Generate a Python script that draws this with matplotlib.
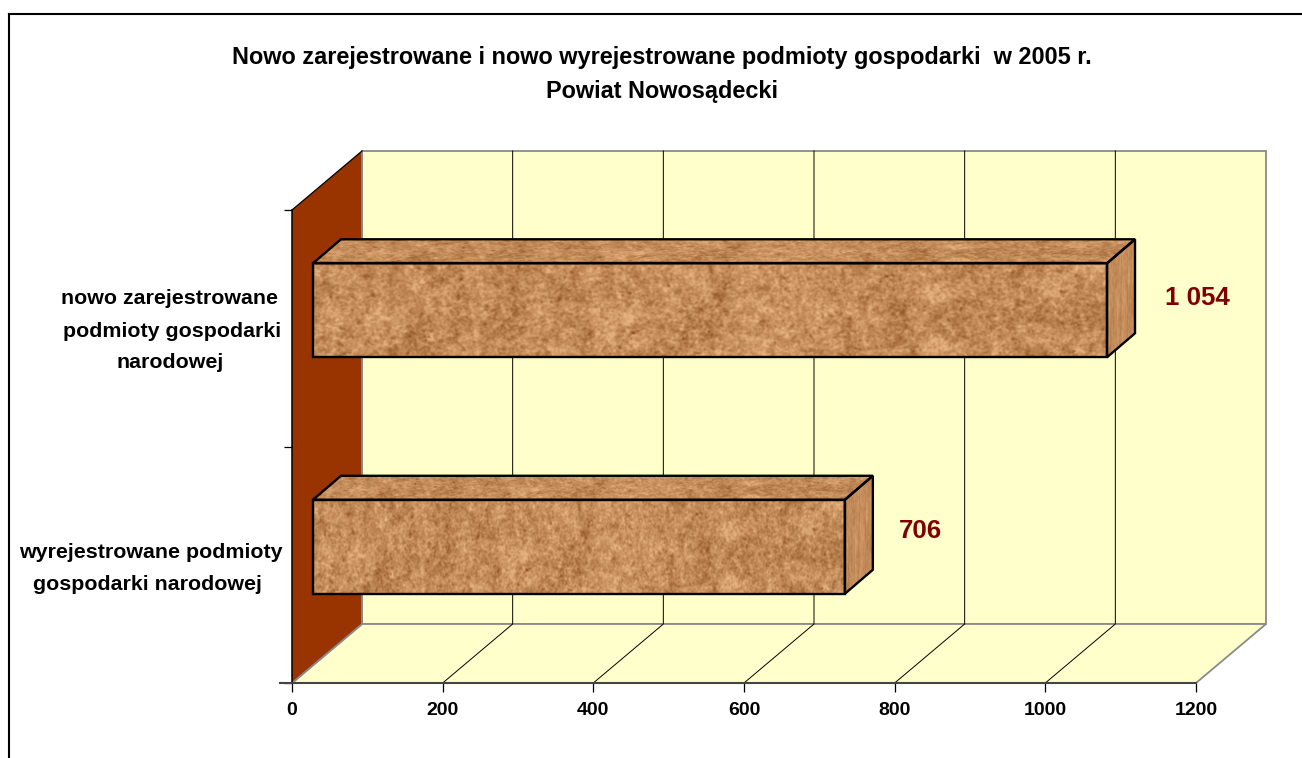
import numpy as np
import matplotlib
matplotlib.use('Agg')
import matplotlib.pyplot as plt
from matplotlib.patches import Polygon

plt.rcParams['font.family'] = ['Liberation Sans', 'DejaVu Sans']
plt.rcParams['font.weight'] = 'bold'

# data
categories = [['wyrejestrowane podmioty', 'gospodarki narodowej'],
              ['nowo zarejestrowane', 'podmioty gospodarki', 'narodowej']]
values = [706, 1054]
value_labels = ['706', '1 054']
x_ticks = [0, 200, 400, 600, 800, 1000, 1200]
title = 'Nowo zarejestrowane i nowo wyrejestrowane podmioty gospodarki  w 2005 r.\nPowiat Nowosądecki'

W, H = 1302, 758
fig = plt.figure(figsize=(W / 100, H / 100), dpi=100)
# axes box = front plane of the 3d chart, in pixels of the reference
left, right, top, bottom = 292, 1196, 210, 683
ax = fig.add_axes([left / W, 1 - bottom / H, (right - left) / W, (bottom - top) / H])
ax.set_xlim(0, 1200)
ax.set_ylim(0, 2)
ax.set_zorder(2)
ax.patch.set_visible(False)

# pixels to data units
sx = 1200 / (right - left)
sy = 2 / (bottom - top)

# depth of the box
dx = 70 * sx
dy = 59 * sy
wall_col = '#993300'
back_col = '#FFFFCC'
edge_grey = '#8A8A8A'

# back wall, floor, side wall
ax.add_patch(Polygon([(dx, dy), (1200 + dx, dy), (1200 + dx, 2 + dy), (dx, 2 + dy)], closed=True,
                     fc=back_col, ec=edge_grey, lw=1.3, clip_on=False, zorder=1))
ax.add_patch(Polygon([(0, 0), (1200, 0), (1200 + dx, dy), (dx, dy)], closed=True,
                     fc=back_col, ec=edge_grey, lw=1.3, clip_on=False, zorder=1))
ax.add_patch(Polygon([(0, 0), (dx, dy), (dx, 2 + dy), (0, 2)], closed=True,
                     fc=wall_col, ec='none', clip_on=False, zorder=1.5))
ax.plot([dx, dx], [dy, 2 + dy], color=edge_grey, lw=1.3, clip_on=False, zorder=1.6)
ax.plot([0, dx], [0, dy], color=edge_grey, lw=1.3, clip_on=False, zorder=1.6)
ax.plot([0, dx], [2, 2 + dy], color='black', lw=0.9, clip_on=False, zorder=1.6)
ax.plot([0, 0], [0, 2], color='black', lw=1.1, clip_on=False, zorder=1.6)

# gridlines on back wall and floor
for t in x_ticks[1:-1]:
    ax.plot([t, t + dx, t + dx], [0, dy, 2 + dy], color='black', lw=0.7, clip_on=False, zorder=1.4)
ax.plot([-12 * sx, 1200], [0, 0], color='#444444', lw=1.5, clip_on=False, zorder=1.7)


def blur_noise(shape, sigma, seed):
    # hash noise smoothed in fourier space, only for the cork texture
    yy, xx = np.mgrid[0:shape[0], 0:shape[1]]
    n = np.sin(xx * 12.9898 + yy * 78.233 + seed) * 43758.5453
    n = n - np.floor(n)
    fy = np.fft.fftfreq(shape[0])[:, None]
    fx = np.fft.rfftfreq(shape[1])[None, :]
    f = np.fft.rfft2(n) * np.exp(-2 * (np.pi * sigma) ** 2 * (fx ** 2 + fy ** 2))
    out = np.fft.irfft2(f, s=shape)
    return (out - out.mean()) / out.std()


tex_shape = (120, 900)
fine = blur_noise(tex_shape, 1.1, 1.0)
mid = blur_noise(tex_shape, 3.5, 2.0)
blotch = blur_noise(tex_shape, 14.0, 3.0)
tex = 0.55 * fine + 0.4 * mid + 0.3 * blotch
tex = tex - 0.9 * np.clip(blur_noise(tex_shape, 1.6, 4.0) - 1.5, 0, None)
tex = np.clip(0.62 + tex * 0.20, 0, 1)
dark = np.array([0.55, 0.31, 0.12])
light = np.array([0.90, 0.70, 0.50])
tex_rgb = dark + (light - dark) * tex[..., None]


def textured(poly_pts):
    # texture is clipped to the face polygon
    pts = np.array(poly_pts)
    im = ax.imshow(tex_rgb, extent=[pts[:, 0].min(), pts[:, 0].max(), pts[:, 1].min(), pts[:, 1].max()],
                   aspect='auto', zorder=3, interpolation='bilinear')
    patch = Polygon(poly_pts, closed=True, fc='none', ec='black', lw=1.7, clip_on=False, zorder=3.5, joinstyle='miter')
    ax.add_patch(patch)
    im.set_clip_path(patch)


# bars
y_pos = [0.5, 1.5]
x0 = 21 * sx
y_shift = 0.076
bar_h = 94 * sy
bx = 28 * sx
by = 24 * sy
label_off = [(54, 16), (58, 12)]
for y, v, txt, off in zip(y_pos, values, value_labels, label_off):
    lo = y + y_shift - bar_h / 2
    hi = y + y_shift + bar_h / 2
    textured([(x0, lo), (x0 + v, lo), (x0 + v, hi), (x0, hi)])
    textured([(x0, hi), (x0 + v, hi), (x0 + v + bx, hi + by), (x0 + bx, hi + by)])
    textured([(x0 + v, lo), (x0 + v + bx, lo + by), (x0 + v + bx, hi + by), (x0 + v, hi)])
    ax.annotate(txt, xy=(x0 + v, y + y_shift), xytext=(off[0] * 0.72, off[1] * 0.72), textcoords='offset points',
                ha='left', va='center', color='#800000', fontsize=18.6, fontweight='bold', zorder=4)
ax.set_xlim(0, 1200)
ax.set_ylim(0, 2)

# ticks
for s in ax.spines.values():
    s.set_visible(False)
ax.set_xticks(x_ticks)
ax.set_yticks([0, 1, 2])
ax.set_yticklabels([])
ax.tick_params(axis='x', length=6.5, width=0.9, color='black', labelsize=14, pad=7.2)
ax.tick_params(axis='y', length=6, width=0.9, color='black')

# category labels sit left of the wall, one text per line like the source
cat_x = [[151, 147], [170, 172, 170]]
cat_y = [[553, 584], [299, 332, 363]]
for lines, xs, ys in zip(categories, cat_x, cat_y):
    for line, px, py in zip(lines, xs, ys):
        ax.text((px - left) * sx, (bottom - py) * sy, line, ha='center', va='center',
                fontsize=15.4, clip_on=False)

fig.text(662 / W, 1 - 74.5 / H, title, ha='center', va='center', fontsize=16.9, linespacing=1.62)

# outer frame, open at bottom and right like the source
fig.add_artist(plt.Line2D([9 / W, 9 / W], [0, 1 - 14 / H], color='black', lw=1.5))
fig.add_artist(plt.Line2D([9 / W, 1], [1 - 14 / H, 1 - 14 / H], color='black', lw=1.5))

fig.savefig('out.png', dpi=100)
